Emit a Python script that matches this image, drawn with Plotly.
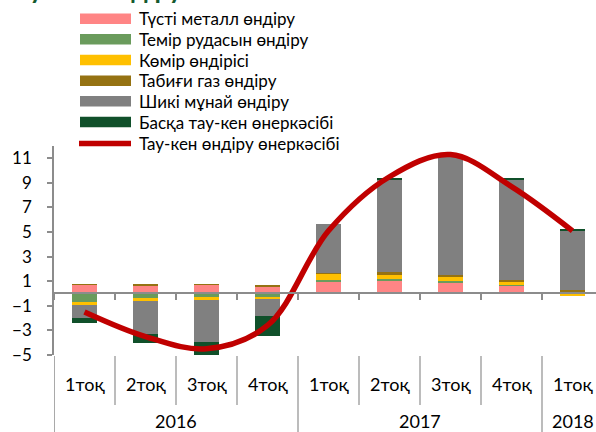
import plotly.graph_objects as go

# Quarterly contributions to mining output growth, percentage points
quarters = ["1тоқ", "2тоқ", "3тоқ", "4тоқ", "1тоқ", "2тоқ", "3тоқ", "4тоқ", "1тоқ"]
years = ["2016", "2017", "2018"]
quarters_per_year = [4, 4, 1]

nonferrous = [0.70, 0.65, 0.70, 0.60, 0.90, 0.98, 0.87, 0.62, 0.08]
iron_ore = [-0.70, -0.36, -0.27, -0.25, 0.19, 0.19, 0.14, 0.11, 0.00]
coal = [-0.22, -0.22, -0.22, -0.20, 0.52, 0.33, 0.30, 0.19, -0.17]
natural_gas = [0.06, 0.05, 0.05, 0.06, 0.04, 0.27, 0.19, 0.22, 0.20]
crude_oil = [-1.06, -2.70, -3.46, -1.40, 4.00, 7.54, 9.65, 8.17, 4.85]
other_mining = [-0.38, -0.73, -1.27, -1.58, 0.00, 0.08, 0.00, 0.04, 0.05]
mining_total = [-1.5, -3.5, -4.5, -2.6, 5.1, 9.5, 11.3, 8.7, 5.1]

series = [
    ("Түсті металл өндіру", nonferrous, "#FF8585"),
    ("Темір рудасын өндіру", iron_ore, "#6A9B5C"),
    ("Көмір өндірісі", coal, "#FFC000"),
    ("Табиғи газ өндіру", natural_gas, "#957212"),
    ("Шикі мұнай өндіру", crude_oil, "#808080"),
    ("Басқа тау-кен өнеркәсібі", other_mining, "#10502A"),
]
line_name = "Тау-кен өндіру өнеркәсібі"
line_color = "#C00000"

W, H = 596, 432
PL, PR, PT, PB = 54, 596, 146, 355
FONT = "Lato"
AXIS_GREY = "#8C8C8C"
DIV_GREY = "#A6A6A6"


def px(x):
    return (x - PL) / (PR - PL)


def py(y):
    return (PB - y) / (PB - PT)


xs = list(range(len(quarters)))
fig = go.Figure()
for name, vals, color in series:
    fig.add_trace(go.Bar(x=xs, y=vals, name=name, marker_color=color,
                         marker_line_width=0, width=0.41, showlegend=False))
fig.add_trace(go.Scatter(x=xs, y=mining_total, name=line_name, mode="lines",
                         line=dict(color=line_color, width=5.5, shape="spline", smoothing=1.0),
                         showlegend=False))

shapes = []
annotations = []

# category axis: quarter labels, year labels and divider lines
boundaries = [i - 0.5 for i in range(len(quarters))]
year_starts = []
acc = 0
for n in quarters_per_year:
    year_starts.append(acc)
    acc += n
for b in boundaries:
    is_year = (b + 0.5) in year_starts
    shapes.append(dict(type="line", xref="x", yref="paper", x0=b, x1=b,
                       y0=py(356), y1=py(432 if is_year else 405),
                       line=dict(color=AXIS_GREY if b < 0 else DIV_GREY, width=1.5)))
for i, q in enumerate(quarters):
    annotations.append(dict(x=i, y=py(384), xref="x", yref="paper", text=q,
                            showarrow=False, xanchor="center", yanchor="middle",
                            font=dict(family=FONT, size=18, color="#000000")))
for y, start, n in zip(years, year_starts, quarters_per_year):
    annotations.append(dict(x=start + (n - 1) / 2, y=py(421), xref="x", yref="paper",
                            text=y, showarrow=False, xanchor="center", yanchor="middle",
                            font=dict(family=FONT, size=18, color="#000000")))

# legend drawn as swatches with text
legend_rows = [18.7, 39.3, 60.0, 80.7, 101.3, 122.0, 143.5]
for (name, _, color), ry in zip(series, legend_rows):
    shapes.append(dict(type="rect", xref="paper", yref="paper",
                       x0=px(80), x1=px(131), y0=py(ry + 5.3), y1=py(ry - 5.3),
                       line=dict(width=0), fillcolor=color))
    annotations.append(dict(x=px(137), y=py(ry), xref="paper", yref="paper", text=name,
                            showarrow=False, xanchor="left", yanchor="middle",
                            font=dict(family=FONT, size=17, color="#000000")))
ry = legend_rows[-1]
shapes.append(dict(type="line", xref="paper", yref="paper",
                   x0=px(79), x1=px(131), y0=py(ry), y1=py(ry),
                   line=dict(color=line_color, width=5.5)))
annotations.append(dict(x=px(137), y=py(ry), xref="paper", yref="paper", text=line_name,
                        showarrow=False, xanchor="left", yanchor="middle",
                        font=dict(family=FONT, size=17, color="#000000")))

# heading sitting above the visible area
annotations.append(dict(x=px(2), y=py(7), xref="paper", yref="paper",
                        text="<b>Тау-кен өндіру</b>", showarrow=False,
                        xanchor="left", yanchor="bottom",
                        font=dict(family=FONT, size=26, color="#145A2E")))

fig.update_layout(
    width=W, height=H,
    margin=dict(l=PL, r=W - PR, t=PT, b=H - PB, pad=0),
    paper_bgcolor="white", plot_bgcolor="white",
    barmode="relative", bargap=0,
    showlegend=False,
    shapes=shapes, annotations=annotations,
    xaxis=dict(range=[-0.5, -0.5 + (PR - PL) / 61.0], tickvals=boundaries,
               showticklabels=False, ticks="outside", ticklen=6, tickwidth=1.5,
               tickcolor=AXIS_GREY, showline=True, linecolor=AXIS_GREY, linewidth=2,
               showgrid=False, zeroline=False, anchor="free", position=py(293.2),
               fixedrange=True),
    yaxis=dict(range=[-5, 12], tickvals=list(range(-5, 12, 2)), ticks="outside",
               ticklen=5, tickwidth=1.5, tickcolor=AXIS_GREY, showline=True,
               linecolor=AXIS_GREY, linewidth=1.5, showgrid=False, zeroline=False,
               ticklabelstandoff=12,
               tickfont=dict(family=FONT, size=17, color="#000000")),
)

fig.write_html("out.html")
